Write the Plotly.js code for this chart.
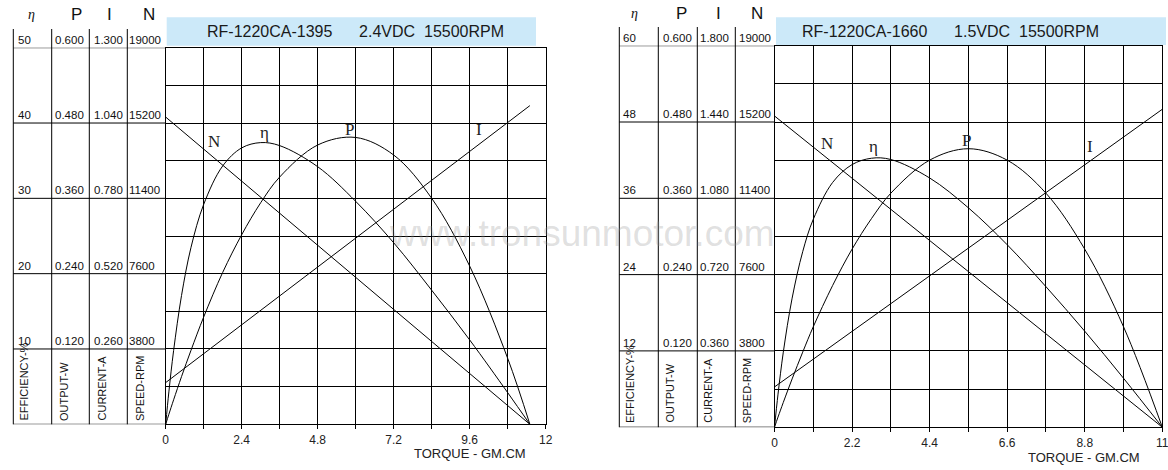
<!DOCTYPE html>
<html><head><meta charset="utf-8">
<script src="https://cdn.plot.ly/plotly-3.0.1.min.js"></script>
<style>html,body{margin:0;padding:0;background:#fff;} #chart{width:1168px;height:470px;}</style>
</head><body><div id="chart"></div>
<script>
// ---- Left motor: RF-1220CA-1395 2.4VDC ----
const torqueL = [0,0.1,0.25,0.5,0.8,1.2,1.8,2.4,3.0,3.6,4.8,6.0,7.2,8.4,9.6,10.8,11.5];
const effL    = [0,4.3,9.8,17.1,23.5,29.2,34.3,36.7,37.4,37.0,34.2,29.6,24.1,17.8,11.2,4.2,0];
const powerL  = [0,0.016,0.039,0.076,0.118,0.171,0.242,0.302,0.353,0.394,0.445,0.457,0.429,0.360,0.252,0.105,0];
const lineTorqueL = [0, 11.5];
const speedL   = [15500, 0];
const currentL = [0.144, 1.10];

// ---- Right motor: RF-1220CA-1660 1.5VDC ----
const torqueR = [0,0.1,0.25,0.5,0.8,1.1,1.65,2.2,2.75,3.3,4.4,5.5,6.6,7.7,8.8,9.9,11];
const effR    = [0,5.2,11.8,20.3,27.6,32.7,38.5,41.3,42.3,42.1,39.2,34.5,28.7,22.1,15.1,7.7,0];
const powerR  = [0,0.016,0.039,0.076,0.118,0.158,0.223,0.280,0.328,0.368,0.420,0.438,0.420,0.368,0.280,0.158,0];
const lineTorqueR = [0, 11];
const speedR   = [15500, 0];
const currentR = [0.19, 1.50];

// ---- ticks ----
const xTickValsL = [0,1.2,2.4,3.6,4.8,6.0,7.2,8.4,9.6,10.8,12];
const xTickTextL = ["0","","2.4","","4.8","","7.2","","9.6","","12"];
const xTickValsR = [0,1.1,2.2,3.3,4.4,5.5,6.6,7.7,8.8,9.9,11];
const xTickTextR = ["0","","2.2","","4.4","","6.6","","8.8","","11"];

const effTicksL = [10,20,30,40,50];
const powTicksL = [0.120,0.240,0.360,0.480,0.600];
const curTicksL = [0.260,0.520,0.780,1.040,1.300];
const spdTicksL = [3800,7600,11400,15200,19000];
const effTicksR = [12,24,36,48,60];
const powTicksR = [0.120,0.240,0.360,0.480,0.600];
const curTicksR = [0.360,0.720,1.080,1.440,1.800];
const spdTicksR = [3800,7600,11400,15200,19000];

const titleL = "RF-1220CA-1395\u00A0\u00A0\u00A0\u00A0\u00A0 2.4VDC\u00A0\u00A015500RPM";
const titleR = "RF-1220CA-1660\u00A0\u00A0\u00A0\u00A0\u00A0 1.5VDC\u00A0\u00A015500RPM";
const unitLabels = ["EFFICIENCY-%","OUTPUT-W","CURRENT-A","SPEED-RPM"];
const headLabels = ["\u03B7","P","I","N"];

const W = 1168, H = 470;
const px = x => x / W;
const py = y => 1 - y / H;

const lineStyle = {color:'#000', width:1, shape:'spline', smoothing:1};
const straight = {color:'#000', width:1};

const traces = [
  {x: torqueL, y: effL, xaxis:'x', yaxis:'y', mode:'lines', line: lineStyle, hoverinfo:'skip'},
  {x: torqueL, y: powerL, xaxis:'x', yaxis:'y2', mode:'lines', line: lineStyle, hoverinfo:'skip'},
  {x: lineTorqueL, y: currentL, xaxis:'x', yaxis:'y3', mode:'lines', line: straight, hoverinfo:'skip'},
  {x: lineTorqueL, y: speedL, xaxis:'x', yaxis:'y4', mode:'lines', line: straight, hoverinfo:'skip'},
  {x: torqueR, y: effR, xaxis:'x2', yaxis:'y5', mode:'lines', line: lineStyle, hoverinfo:'skip'},
  {x: torqueR, y: powerR, xaxis:'x2', yaxis:'y6', mode:'lines', line: lineStyle, hoverinfo:'skip'},
  {x: lineTorqueR, y: currentR, xaxis:'x2', yaxis:'y7', mode:'lines', line: straight, hoverinfo:'skip'},
  {x: lineTorqueR, y: speedR, xaxis:'x2', yaxis:'y8', mode:'lines', line: straight, hoverinfo:'skip'}
];

const tickFont = {family:'Arial, Liberation Sans, sans-serif', size:12, color:'#222'};
function xAxis(dom, range, vals, text, anchor) {
  return {domain: dom, range: range, anchor: anchor, tickmode:'array', tickvals: vals, ticktext: text,
    showgrid:true, gridcolor:'#000', gridwidth:1, zeroline:false, showline:true, mirror:true,
    linecolor:'#000', linewidth:1, ticks:'outside', ticklen:4, tickcolor:'#000', tickwidth:1,
    tickfont: tickFont, ticklabeloverflow:'allow', fixedrange:true};
}
function yMain(dom, range, dtick, anchor) {
  return {domain: dom, range: range, anchor: anchor, tick0:0, dtick: dtick, showgrid:true,
    gridcolor:'#000', gridwidth:1, zeroline:false, showline:true, mirror:true, linecolor:'#000',
    linewidth:1, showticklabels:false, ticks:'', fixedrange:true};
}
function yOver(over, anchor, range) {
  return {overlaying: over, anchor: anchor, range: range, visible:false, fixedrange:true};
}

const domXL = [px(165.7), px(545.7)], domYL = [py(424.3), py(47.7)];
const domXR = [px(774.5), px(1162.3)], domYR = [py(427.2), py(45.7)];

const shapes = [];
const annotations = [];
const lbl = {family:'Arial, Liberation Sans, sans-serif', size:11.5, color:'#111'};
const ulbl = {family:'Arial, Liberation Sans, sans-serif', size:11, color:'#111'};

function buildTable(cfg) {
  cfg.cols.forEach(cx => shapes.push({type:'line', xref:'paper', yref:'paper',
    x0: px(cx), x1: px(cx), y0: py(cfg.colTop), y1: py(cfg.bottom), line:{color:'#000', width:1}}));
  [0].concat(cfg.eff).forEach(v => shapes.push({type:'line', xref:'paper', yref: cfg.yrefs[0],
    x0: px(cfg.cols[0]), x1: px(cfg.plotLeft), y0: v, y1: v, line:{color:'#000', width:1}}));
  const sets = [cfg.eff.map(v => String(v)), cfg.pow.map(v => v.toFixed(3)),
                cfg.cur.map(v => v.toFixed(3)), cfg.spd.map(v => String(v))];
  const vals = [cfg.eff, cfg.pow, cfg.cur, cfg.spd];
  for (let c = 0; c < 4; c++) {
    for (let i = 0; i < vals[c].length; i++) {
      annotations.push({xref:'paper', yref: cfg.yrefs[c], x: px(cfg.lblX[c]), y: vals[c][i],
        text: sets[c][i], showarrow:false, xanchor:'left', yanchor:'bottom', yshift:1,
        borderpad:0, font: lbl});
    }
    annotations.push({xref:'paper', yref:'paper', x: px(cfg.unitX[c]), y: py(cfg.unitBottom),
      text: unitLabels[c], textangle:-90, showarrow:false, xanchor:'center', yanchor:'bottom',
      borderpad:0, font: ulbl});
    annotations.push({xref:'paper', yref:'paper', x: px(cfg.headX[c]), y: py(cfg.headY),
      text: headLabels[c], showarrow:false, xanchor:'center', yanchor:'middle',
      font: c === 0 ? {family:'Liberation Serif, serif', size:14, color:'#111', style:'italic'}
                    : {family:'Arial, Liberation Sans, sans-serif', size:17, color:'#111'}});
  }
  shapes.push({type:'rect', xref:'paper', yref:'paper', x0: px(cfg.box[0]), x1: px(cfg.box[1]),
    y0: py(cfg.box[3]), y1: py(cfg.box[2]), fillcolor:'#cce9f9', line:{width:0}});
  annotations.push({xref:'paper', yref:'paper', x: px(cfg.titleX), y: py(31), text: cfg.title,
    showarrow:false, xanchor:'center', yanchor:'middle',
    font:{family:'Arial, Liberation Sans, sans-serif', size:16, color:'#1a1a1a'}});
  cfg.curveLbl.forEach(p => annotations.push({xref:'paper', yref:'paper', x: px(p[1]), y: py(p[2]),
    text: p[0], showarrow:false, xanchor:'center', yanchor:'middle',
    font:{family:'Liberation Serif, Times New Roman, serif', size:17, color:'#222'}}));
  annotations.push({xref:'paper', yref:'paper', x: px(cfg.axTitle[0]), y: py(cfg.axTitle[1]),
    text:'TORQUE - GM.CM', showarrow:false, xanchor:'center', yanchor:'middle',
    font:{family:'Arial, Liberation Sans, sans-serif', size:13, color:'#222'}});
}

buildTable({cols:[13.3,51.7,89.3,127.3], colTop:29, bottom:424.3, plotLeft:165.7,
  yrefs:['y','y2','y3','y4'], eff: effTicksL, pow: powTicksL, cur: curTicksL, spd: spdTicksL,
  lblX:[16.5,54,92.5,127.5], unitX:[23.5,63.5,101,139.5], unitBottom:422,
  headX:[31.5,76,109.5,148.5], headY:15, box:[166.7,536,17.3,45.7], titleX:355, title: titleL,
  curveLbl:[['N',214,141.7],['\u03B7',264,132.3],['P',349,129.3],['I',479,129.3]],
  axTitle:[470,453]});
buildTable({cols:[619.3,658.3,697.3,735.3], colTop:27, bottom:427.2, plotLeft:774.5,
  yrefs:['y5','y6','y7','y8'], eff: effTicksR, pow: powTicksR, cur: curTicksR, spd: spdTicksR,
  lblX:[622,661.5,698.5,738], unitX:[630,669,707.3,746.7], unitBottom:424,
  headX:[634.3,681,718.7,756.7], headY:13.5, box:[776,1166,17.3,45], titleX:950, title: titleR,
  curveLbl:[['N',827.3,143.3],['\u03B7',873.3,146.7],['P',966,140],['I',1090,146.7]],
  axTitle:[1084,457]});

annotations.push({xref:'paper', yref:'paper', x: px(582), y: py(233), text:'www.tronsunmotor.com',
  showarrow:false, xanchor:'center', yanchor:'middle',
  font:{family:'Arial, Liberation Sans, sans-serif', size:37, color:'rgba(150,150,150,0.3)'}});

const layout = {
  width: W, height: H, margin:{l:0, r:0, t:0, b:0, pad:0},
  paper_bgcolor:'#fff', plot_bgcolor:'rgba(0,0,0,0)', showlegend:false,
  xaxis: xAxis(domXL, [0,12], xTickValsL, xTickTextL, 'y'),
  yaxis: yMain(domYL, [0,50], 5, 'x'),
  yaxis2: yOver('y','x',[0,0.6]),
  yaxis3: yOver('y','x',[0,1.3]),
  yaxis4: yOver('y','x',[0,19000]),
  xaxis2: xAxis(domXR, [0,11], xTickValsR, xTickTextR, 'y5'),
  yaxis5: yMain(domYR, [0,60], 6, 'x2'),
  yaxis6: yOver('y5','x2',[0,0.6]),
  yaxis7: yOver('y5','x2',[0,1.8]),
  yaxis8: yOver('y5','x2',[0,19000]),
  shapes: shapes, annotations: annotations
};
Plotly.newPlot('chart', traces, layout, {staticPlot:true, displayModeBar:false});
</script></body></html>
